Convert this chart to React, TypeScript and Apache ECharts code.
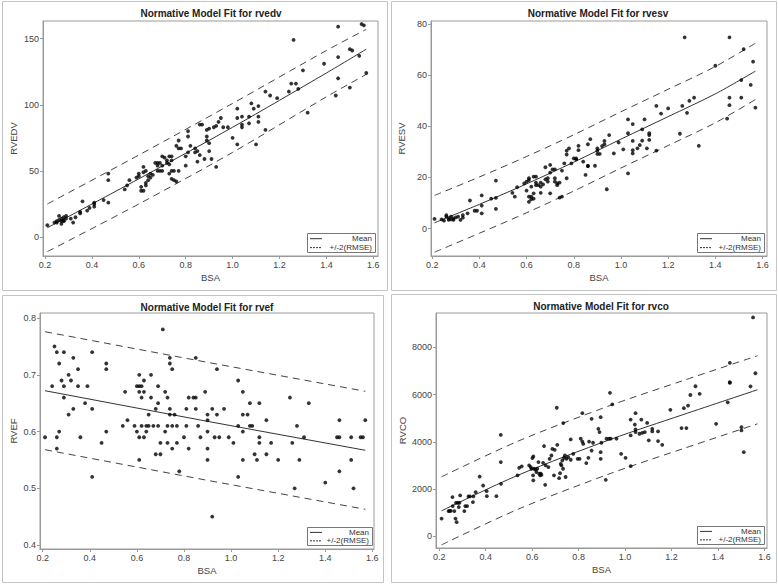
import React, { useEffect, useRef } from "react";
import * as echarts from "echarts";

// ---------- tick labels ----------
const bsaTicks = [0.2, 0.4, 0.6, 0.8, 1.0, 1.2, 1.4, 1.6];
const edvTicks = [0, 50, 100, 150];
const esvTicks = [0, 20, 40, 60, 80];
const efTicks = [0.4, 0.5, 0.6, 0.7, 0.8];
const coTicks = [0, 2000, 4000, 6000, 8000];

// ---------- rvedv ----------
const edvPoints: number[][] = [
  [0.21, 9], [0.24, 11], [0.25, 11], [0.25, 12], [0.26, 16], [0.26, 13], [0.27, 12], [0.27, 10], [0.27, 14],
  [0.28, 12], [0.28, 15], [0.28, 12.5], [0.29, 14], [0.29, 16], [0.31, 14], [0.32, 11], [0.33, 15], [0.35, 18],
  [0.35, 19], [0.36, 27], [0.38, 20], [0.39, 22], [0.41, 23], [0.41, 26], [0.41, 25], [0.45, 28], [0.47, 26],
  [0.47, 48], [0.47, 43], [0.54, 36], [0.55, 39], [0.56, 43], [0.59, 45], [0.6, 46], [0.6, 48], [0.61, 38],
  [0.61, 35], [0.62, 49], [0.62, 53], [0.62, 35], [0.63, 50], [0.63, 39], [0.63, 41], [0.64, 43], [0.64, 46],
  [0.65, 48], [0.65, 45], [0.66, 47], [0.67, 56], [0.68, 54], [0.68, 50], [0.68, 56], [0.69, 50], [0.69, 56],
  [0.7, 61], [0.7, 50], [0.7, 54], [0.71, 60], [0.72, 58], [0.72, 56], [0.73, 61], [0.73, 48], [0.73, 55],
  [0.74, 61], [0.74, 50], [0.74, 44], [0.74, 58], [0.75, 43], [0.75, 50], [0.76, 42], [0.76, 69], [0.77, 73],
  [0.77, 67], [0.77, 50], [0.78, 67], [0.8, 54], [0.8, 61], [0.81, 64], [0.81, 80], [0.81, 76], [0.82, 69],
  [0.84, 67], [0.84, 64], [0.85, 57], [0.85, 65], [0.86, 62], [0.86, 85], [0.87, 85], [0.88, 59], [0.89, 76],
  [0.89, 81], [0.9, 82], [0.89, 73], [0.9, 71], [0.9, 65], [0.91, 59], [0.92, 83], [0.93, 84], [0.93, 53],
  [0.94, 87], [0.95, 90], [0.96, 83], [0.98, 83], [1.0, 75], [1.02, 97], [1.02, 90], [1.02, 70], [1.04, 91],
  [1.04, 85], [1.04, 83], [1.07, 86], [1.07, 91], [1.08, 101], [1.09, 97], [1.1, 70], [1.11, 99], [1.11, 91],
  [1.11, 87], [1.14, 110], [1.14, 81], [1.16, 107], [1.19, 105], [1.24, 110], [1.25, 116], [1.26, 149],
  [1.27, 116], [1.28, 112], [1.3, 126], [1.32, 94], [1.39, 131], [1.44, 107], [1.45, 120], [1.45, 136],
  [1.45, 159], [1.5, 113], [1.5, 142], [1.51, 141], [1.54, 137], [1.55, 161], [1.56, 160], [1.57, 124]
];
const edvLineX = [0.21, 0.6, 1.0, 1.4, 1.57];
const edvMean = [7, 44, 83, 124, 142];
const edvUpper = [25, 62, 101, 141, 157];
const edvLower = [-11, 25, 64, 106, 123];

// ---------- rvesv ----------
const esvPoints: number[][] = [
  [0.21, 3.8], [0.24, 3.6], [0.25, 3.1], [0.26, 5.3], [0.26, 4.7], [0.27, 4.0], [0.27, 3.4], [0.28, 4.7],
  [0.28, 3.6], [0.29, 4.0], [0.29, 3.4], [0.3, 4.4], [0.31, 4.7], [0.32, 3.4], [0.33, 4.3], [0.33, 5.3],
  [0.35, 6.0], [0.36, 11.0], [0.38, 7.0], [0.39, 7.0], [0.41, 13.0], [0.41, 6.0], [0.41, 9.0], [0.45, 11.7],
  [0.47, 18.8], [0.47, 12.0], [0.47, 7.7], [0.54, 14.0], [0.55, 12.5], [0.56, 16.2], [0.59, 17.7], [0.6, 14.9],
  [0.6, 18.4], [0.61, 19.0], [0.61, 12.5], [0.61, 19.7], [0.61, 10.5], [0.62, 11.5], [0.62, 16.4], [0.62, 12.5],
  [0.63, 11.7], [0.63, 20.3], [0.63, 13.8], [0.64, 18.0], [0.64, 20.3], [0.64, 17.0], [0.65, 17.0], [0.66, 16.4],
  [0.66, 14.0], [0.66, 18.0], [0.67, 17.3], [0.68, 24.0], [0.68, 19.3], [0.69, 18.4], [0.69, 19.7], [0.7, 24.9],
  [0.7, 21.9], [0.7, 13.8], [0.71, 23.2], [0.72, 18.4], [0.72, 23.2], [0.72, 19.7], [0.73, 17.7], [0.73, 17.0],
  [0.74, 12.1], [0.74, 18.0], [0.75, 12.5], [0.75, 22.7], [0.76, 25.5], [0.77, 19.7], [0.77, 29.0], [0.77, 30.5],
  [0.78, 31.4], [0.79, 25.5], [0.8, 27.5], [0.81, 27.1], [0.81, 27.5], [0.82, 32.4], [0.82, 30.7], [0.84, 26.2],
  [0.85, 21.0], [0.86, 24.5], [0.86, 33.0], [0.86, 24.5], [0.87, 35.0], [0.89, 24.6], [0.9, 29.2], [0.9, 30.5],
  [0.9, 31.4], [0.91, 29.2], [0.92, 32.3], [0.93, 34.3], [0.93, 33.0], [0.94, 15.4], [0.95, 36.6], [0.97, 29.4],
  [0.99, 33.7], [1.01, 31.0], [1.03, 42.7], [1.03, 37.3], [1.03, 21.6], [1.05, 40.9], [1.05, 34.3], [1.05, 30.7],
  [1.05, 29.4], [1.07, 31.4], [1.08, 32.7], [1.09, 34.4], [1.09, 38.8], [1.1, 42.7], [1.11, 31.4], [1.12, 37.3],
  [1.12, 36.6], [1.12, 34.7], [1.15, 48.0], [1.15, 30.5], [1.17, 45.0], [1.2, 47.0], [1.25, 37.1], [1.26, 48.0],
  [1.27, 74.8], [1.28, 45.3], [1.29, 50.0], [1.31, 51.2], [1.33, 32.4], [1.4, 63.7], [1.45, 43.0], [1.46, 51.2],
  [1.46, 48.3], [1.46, 74.8], [1.51, 58.1], [1.51, 51.2], [1.52, 70.2], [1.55, 56.2], [1.56, 65.3], [1.57, 47.3]
];
const esvLineX = [0.21, 0.4, 0.6, 0.8, 1.0, 1.2, 1.4, 1.57];
const esvMean = [2.3, 9.5, 17.5, 26, 35, 43.8, 52.7, 61.6];
const esvUpper = [13, 20.2, 28.2, 36.7, 45.7, 54.5, 63.4, 72.5];
const esvLower = [-9.2, -1.8, 6.2, 14.7, 23.7, 32.5, 41.4, 50.5];

// ---------- rvef ----------
const efPoints: number[][] = [
  [0.21, 0.59], [0.24, 0.68], [0.25, 0.75], [0.26, 0.74], [0.26, 0.59], [0.26, 0.57], [0.27, 0.72], [0.27, 0.6],
  [0.28, 0.69], [0.29, 0.74], [0.29, 0.68], [0.29, 0.66], [0.31, 0.7], [0.31, 0.63], [0.32, 0.69], [0.33, 0.73],
  [0.33, 0.64], [0.35, 0.71], [0.35, 0.68], [0.36, 0.59], [0.38, 0.65], [0.39, 0.68], [0.41, 0.74], [0.41, 0.64],
  [0.41, 0.52], [0.45, 0.58], [0.47, 0.72], [0.47, 0.71], [0.47, 0.6], [0.54, 0.61], [0.55, 0.67], [0.56, 0.62],
  [0.59, 0.61], [0.6, 0.6], [0.61, 0.59], [0.61, 0.55], [0.6, 0.68], [0.61, 0.68], [0.62, 0.68], [0.61, 0.7],
  [0.61, 0.67], [0.62, 0.66], [0.62, 0.61], [0.63, 0.69], [0.63, 0.67], [0.64, 0.6], [0.64, 0.61], [0.63, 0.59],
  [0.65, 0.63], [0.65, 0.61], [0.66, 0.7], [0.66, 0.66], [0.67, 0.61], [0.68, 0.64], [0.68, 0.56], [0.69, 0.68],
  [0.69, 0.65], [0.69, 0.61], [0.7, 0.58], [0.7, 0.56], [0.71, 0.78], [0.72, 0.67], [0.72, 0.6], [0.73, 0.66],
  [0.73, 0.61], [0.73, 0.58], [0.74, 0.73], [0.74, 0.72], [0.74, 0.64], [0.74, 0.63], [0.75, 0.71], [0.75, 0.61],
  [0.75, 0.57], [0.76, 0.63], [0.77, 0.61], [0.77, 0.58], [0.78, 0.53], [0.8, 0.59], [0.81, 0.64], [0.81, 0.61],
  [0.82, 0.66], [0.82, 0.57], [0.84, 0.66], [0.85, 0.66], [0.85, 0.73], [0.85, 0.64], [0.86, 0.61], [0.87, 0.59],
  [0.89, 0.67], [0.9, 0.63], [0.9, 0.62], [0.9, 0.6], [0.9, 0.57], [0.9, 0.55], [0.92, 0.64], [0.92, 0.45],
  [0.93, 0.59], [0.94, 0.71], [0.94, 0.63], [0.95, 0.59], [0.97, 0.64], [0.99, 0.59], [1.01, 0.58], [1.03, 0.69],
  [1.03, 0.61], [1.03, 0.52], [1.05, 0.67], [1.05, 0.63], [1.05, 0.6], [1.05, 0.55], [1.07, 0.63], [1.08, 0.65],
  [1.08, 0.61], [1.09, 0.61], [1.1, 0.56], [1.11, 0.55], [1.12, 0.65], [1.12, 0.59], [1.12, 0.58], [1.15, 0.62],
  [1.15, 0.56], [1.17, 0.58], [1.2, 0.55], [1.25, 0.66], [1.26, 0.58], [1.27, 0.5], [1.28, 0.61], [1.29, 0.55],
  [1.31, 0.59], [1.33, 0.65], [1.4, 0.51], [1.45, 0.59], [1.46, 0.59], [1.46, 0.62], [1.46, 0.53], [1.51, 0.59],
  [1.51, 0.55], [1.52, 0.5], [1.55, 0.59], [1.56, 0.59], [1.57, 0.62]
];
const efLineX = [0.21, 0.9, 1.57];
const efMean = [0.672, 0.618, 0.567];
const efUpper = [0.776, 0.722, 0.671];
const efLower = [0.568, 0.514, 0.463];

// ---------- rvco ----------
const coPoints: number[][] = [
  [0.21, 750], [0.24, 1070], [0.245, 1080], [0.25, 1075], [0.257, 1660], [0.258, 1280], [0.265, 1070], [0.27, 750],
  [0.272, 1420], [0.275, 600], [0.28, 1420], [0.284, 1240], [0.287, 1420], [0.29, 1730], [0.308, 1070], [0.312, 1280],
  [0.32, 1280], [0.326, 1690], [0.332, 1690], [0.345, 1450], [0.347, 1690], [0.357, 1870], [0.374, 2530], [0.389, 2150],
  [0.404, 1910], [0.405, 1700], [0.446, 1700], [0.465, 4290], [0.465, 3140], [0.466, 2220], [0.537, 2580], [0.544, 2900],
  [0.555, 2960], [0.587, 3000], [0.594, 2930], [0.597, 2860], [0.601, 3310], [0.605, 3380], [0.604, 2580], [0.605, 2370],
  [0.608, 2860], [0.615, 2820], [0.618, 2720], [0.622, 2860], [0.627, 3140], [0.63, 2650], [0.634, 2580], [0.637, 2650],
  [0.64, 2600], [0.647, 3110], [0.651, 3820], [0.656, 2180], [0.658, 3000], [0.67, 2930], [0.675, 3280], [0.683, 3420],
  [0.687, 3700], [0.694, 2580], [0.697, 3660], [0.706, 5440], [0.708, 3870], [0.716, 2460], [0.72, 2670], [0.723, 3070],
  [0.726, 3000], [0.73, 3210], [0.733, 2860], [0.734, 4790], [0.737, 3320], [0.741, 3420], [0.744, 2510], [0.748, 3280],
  [0.755, 3350], [0.766, 4100], [0.766, 3240], [0.777, 3490], [0.796, 3280], [0.804, 3280], [0.809, 4130], [0.816, 5210],
  [0.816, 4010], [0.82, 3910], [0.833, 3100], [0.842, 3320], [0.845, 4010], [0.856, 3630], [0.856, 4970], [0.862, 3960],
  [0.885, 4550], [0.89, 4410], [0.895, 5040], [0.895, 3560], [0.895, 3280], [0.898, 3960], [0.917, 2390], [0.92, 4130],
  [0.931, 4130], [0.938, 4130], [0.935, 6070], [0.945, 5580], [0.963, 4130], [0.983, 3490], [1.002, 3320], [1.024, 4940],
  [1.024, 4270], [1.024, 2970], [1.045, 5210], [1.042, 4730], [1.045, 4520], [1.045, 4410], [1.062, 4340], [1.07, 4940],
  [1.074, 4380], [1.085, 4410], [1.095, 4800], [1.102, 4060], [1.117, 4550], [1.117, 4440], [1.142, 4440], [1.142, 4030],
  [1.16, 3870], [1.195, 5350], [1.243, 4580], [1.253, 5420], [1.264, 4580], [1.271, 5530], [1.281, 5980], [1.303, 6350],
  [1.321, 6030], [1.392, 4760], [1.442, 5670], [1.451, 7340], [1.451, 6520], [1.451, 6490], [1.501, 4620], [1.501, 4480],
  [1.511, 3560], [1.54, 6340], [1.551, 9260], [1.561, 6900]
];
const coLineX = [0.21, 0.54, 0.94, 1.25, 1.57];
const coMean = [1080, 2590, 4110, 5150, 6200];
const coUpper = [2520, 4030, 5550, 6590, 7640];
const coLower = [-360, 1150, 2670, 3710, 4760];

// ---------- layout (positions / styles) ----------
const panels = [
  {
    title: "Normative Model Fit for rvedv", yName: "RVEDV", points: edvPoints,
    lineX: edvLineX, mean: edvMean, upper: edvUpper, lower: edvLower, yTicks: edvTicks,
    fmt: (v: number) => String(v),
    grid: { left: 43, top: 21, width: 335, height: 235 }, xMin: 0.1915, xMax: 1.62, yMin: -14.3, yMax: 163.3,
    frame: [2, 1, 385, 289], titlePos: [211, 13], legend: [307, 233, 68, 19], yGap: 25, smooth: 0.3
  },
  {
    title: "Normative Model Fit for rvesv", yName: "RVESV", points: esvPoints,
    lineX: esvLineX, mean: esvMean, upper: esvUpper, lower: esvLower, yTicks: esvTicks,
    fmt: (v: number) => String(v),
    grid: { left: 431, top: 21, width: 336, height: 235 }, xMin: 0.195, xMax: 1.619, yMin: -10.7, yMax: 81.2,
    frame: [391, 1, 385, 289], titlePos: [598, 13], legend: [697, 233, 67, 19], yGap: 25, smooth: 0.3
  },
  {
    title: "Normative Model Fit for rvef", yName: "RVEF", points: efPoints,
    lineX: efLineX, mean: efMean, upper: efUpper, lower: efLower, yTicks: efTicks,
    fmt: (v: number) => v.toFixed(1),
    grid: { left: 40, top: 313, width: 334, height: 236 }, xMin: 0.1885, xMax: 1.607, yMin: 0.393, yMax: 0.809,
    frame: [2, 295, 381, 287], titlePos: [207, 307], legend: [307, 527, 65, 18], yGap: 22, smooth: 0
  },
  {
    title: "Normative Model Fit for rvco", yName: "RVCO", points: coPoints,
    lineX: coLineX, mean: coMean, upper: coUpper, lower: coLower, yTicks: coTicks,
    fmt: (v: number) => String(v),
    grid: { left: 436, top: 313, width: 331, height: 235 }, xMin: 0.186, xMax: 1.611, yMin: -493, yMax: 9448,
    frame: [391, 294, 385, 288], titlePos: [601, 306], legend: [697, 526, 67, 18], yGap: 29, smooth: 0.3
  }
];

const FONT = "Liberation Sans, Arial, sans-serif";
const AXIS_COLOR = "#9a9a9a";
const TEXT_COLOR = "#444";

function zip(xs: number[], ys: number[]) {
  return xs.map((x, i) => [x, ys[i]]);
}

export default function App() {
  const ref = useRef<HTMLDivElement>(null);

  useEffect(() => {
    if (!ref.current) return;
    const chart = echarts.init(ref.current, undefined, { renderer: "svg" });

    const grid: any[] = [];
    const xAxis: any[] = [];
    const yAxis: any[] = [];
    const series: any[] = [];
    const graphic: any[] = [];

    panels.forEach((p, i) => {
      grid.push({ ...p.grid, show: true, borderColor: AXIS_COLOR, borderWidth: 1, backgroundColor: "#fff" });
      xAxis.push({
        gridIndex: i, type: "value", min: p.xMin, max: p.xMax,
        name: "BSA", nameLocation: "middle", nameGap: 16,
        nameTextStyle: { fontFamily: FONT, fontSize: 9.5, color: TEXT_COLOR },
        axisLine: { show: true, onZero: false, lineStyle: { color: AXIS_COLOR } },
        axisTick: { show: true, inside: false, length: 3, customValues: bsaTicks, lineStyle: { color: AXIS_COLOR } },
        axisLabel: {
          customValues: bsaTicks, fontFamily: FONT, fontSize: 9, color: TEXT_COLOR, margin: 4,
          formatter: (v: number) => v.toFixed(1)
        },
        splitLine: { show: false }
      });
      yAxis.push({
        gridIndex: i, type: "value", min: p.yMin, max: p.yMax,
        name: p.yName, nameLocation: "middle", nameGap: p.yGap, nameRotate: 90,
        nameTextStyle: { fontFamily: FONT, fontSize: 9.5, color: TEXT_COLOR },
        axisLine: { show: true, onZero: false, lineStyle: { color: AXIS_COLOR } },
        axisTick: { show: true, inside: false, length: 3, customValues: p.yTicks, lineStyle: { color: AXIS_COLOR } },
        axisLabel: {
          customValues: p.yTicks, fontFamily: FONT, fontSize: 9, color: TEXT_COLOR, margin: 4,
          formatter: (v: number) => p.fmt(v)
        },
        splitLine: { show: false }
      });

      series.push({
        type: "scatter", xAxisIndex: i, yAxisIndex: i, data: p.points,
        symbol: "circle", symbolSize: 3.8, itemStyle: { color: "#000" }, silent: true, z: 3
      });
      series.push({
        type: "line", xAxisIndex: i, yAxisIndex: i, data: zip(p.lineX, p.mean), showSymbol: false,
        smooth: p.smooth, lineStyle: { color: "#333", width: 1 }, silent: true, z: 2
      });
      series.push({
        type: "line", xAxisIndex: i, yAxisIndex: i, data: zip(p.lineX, p.upper), showSymbol: false,
        smooth: p.smooth, lineStyle: { color: "#444", width: 1, type: [7, 5] }, silent: true, z: 2
      });
      series.push({
        type: "line", xAxisIndex: i, yAxisIndex: i, data: zip(p.lineX, p.lower), showSymbol: false,
        smooth: p.smooth, lineStyle: { color: "#444", width: 1, type: [7, 5] }, silent: true, z: 2
      });

      const [fx, fy, fw, fh] = p.frame;
      graphic.push({
        type: "rect", z: -10, silent: true,
        shape: { x: fx + 0.5, y: fy + 0.5, width: fw, height: fh },
        style: { fill: "none", stroke: "#c4c4c4", lineWidth: 1 }
      });
      graphic.push({
        type: "text", z: 10, silent: true, x: p.titlePos[0], y: p.titlePos[1],
        style: {
          text: p.title, fill: "#222", font: `bold 10px ${FONT}`,
          textAlign: "center", align: "center", textVerticalAlign: "middle", verticalAlign: "middle"
        }
      });
      const [bx, by, bw, bh] = p.legend;
      const r1 = by + bh * 0.3;
      const r2 = by + bh * 0.77;
      graphic.push({
        type: "rect", z: 100, silent: true,
        shape: { x: bx + 0.5, y: by + 0.5, width: bw, height: bh },
        style: { fill: "#fff", stroke: "#777", lineWidth: 1 }
      });
      graphic.push({
        type: "line", z: 101, silent: true,
        shape: { x1: bx + 3, y1: r1, x2: bx + 15, y2: r1 },
        style: { stroke: "#333", lineWidth: 1 }
      });
      graphic.push({
        type: "line", z: 101, silent: true,
        shape: { x1: bx + 3, y1: r2, x2: bx + 15, y2: r2 },
        style: { stroke: "#333", lineWidth: 1, lineDash: [2, 1] }
      });
      graphic.push({
        type: "text", z: 101, silent: true, x: bx + bw - 3, y: r1,
        style: {
          text: "Mean", fill: "#333", font: `8px ${FONT}`,
          textAlign: "right", align: "right", textVerticalAlign: "middle", verticalAlign: "middle"
        }
      });
      graphic.push({
        type: "text", z: 101, silent: true, x: bx + bw - 3, y: r2,
        style: {
          text: "+/-2(RMSE)", fill: "#333", font: `8px ${FONT}`,
          textAlign: "right", align: "right", textVerticalAlign: "middle", verticalAlign: "middle"
        }
      });
    });

    chart.setOption({
      animation: false,
      backgroundColor: "#fff",
      grid, xAxis, yAxis, series, graphic
    });

    return () => chart.dispose();
  }, []);

  return (
    <div
      ref={ref}
      style={{ position: "fixed", left: 0, top: 0, width: 778, height: 584, background: "#fff" }}
    />
  );
}
